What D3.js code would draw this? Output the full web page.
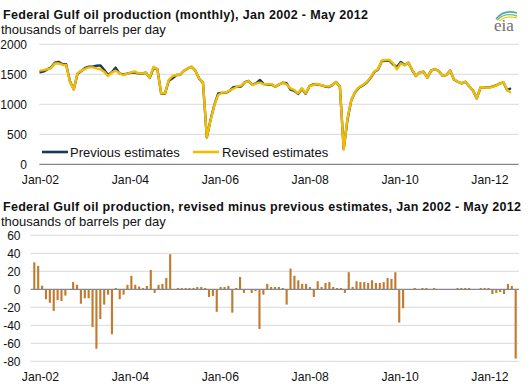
<!DOCTYPE html>
<html>
<head>
<meta charset="utf-8">
<script src="https://cdn.jsdelivr.net/npm/d3@7"></script>
<style>
  html, body { margin: 0; padding: 0; background: #fff; }
  svg { display: block; font-family: "Liberation Sans", Arial, sans-serif; }
</style>
</head>
<body>
<svg id="chart" width="530" height="384"></svg>
<script>
// ---------- DATA ----------
const startYear = 2002;
const months = d3.range(125); // Jan 2002 .. May 2012 (month index)

const revisedEstimates = [
  1561,1570,1585,1600,1680,1683,1660,1655,1377,1249,
  1516,1560,1590,1616,1616,1600,1583,1544,1472,1527,
  1561,1516,1488,1505,1530,1549,1516,1516,1527,1444,
  1627,1583,1183,1183,1405,1472,1488,1494,1560,1599,
  1627,1561,1430,1361,449,738,988,1155,1194,1194,
  1230,1260,1294,1310,1366,1388,1322,1349,1361,1333,
  1333,1333,1294,1333,1361,1333,1266,1238,1183,1266,
  1183,1305,1322,1338,1322,1305,1294,1322,1372,1294,
  249,766,1072,1210,1283,1322,1366,1444,1544,1583,
  1727,1738,1738,1683,1583,1683,1655,1694,1572,1472,
  1533,1544,1444,1561,1588,1555,1477,1488,1561,1416,
  1377,1349,1377,1300,1230,1100,1283,1283,1270,1290,
  1310,1340,1370,1240,1190
];

const previousEstimates = [
  1531,1544,1581,1611,1695,1707,1672,1668,1384,1249,
  1508,1555,1606,1626,1626,1642,1649,1577,1489,1533,
  1611,1515,1499,1511,1525,1534,1511,1513,1526,1440,
  1606,1587,1178,1177,1392,1433,1488,1493,1559,1598,
  1626,1560,1427,1358,448,747,995,1180,1191,1191,
  1226,1286,1293,1296,1370,1388,1326,1351,1405,1339,
  1327,1330,1291,1330,1360,1350,1243,1223,1173,1260,
  1177,1302,1331,1329,1319,1298,1286,1319,1371,1293,
  253,747,1069,1201,1275,1314,1359,1434,1537,1576,
  1719,1725,1727,1664,1620,1704,1655,1694,1571,1472,
  1532,1543,1444,1560,1588,1555,1477,1488,1561,1415,
  1376,1348,1376,1300,1230,1099,1282,1282,1275,1294,
  1313,1345,1364,1236,1267
];

const revisedMinusPrevious = [
  30,26,4,-11,-15,-24,-12,-13,-7,0,
  8,5,-16,-10,-10,-42,-66,-33,-17,-6,
  -50,1.5,-11,-6,5,15,5,3,1.5,3.7,
  21.5,-4,5,6,12.6,39,0,1.5,1.5,1.5,
  1.5,1.5,2.6,2.6,1.5,-8.5,-7.4,-25,2.6,2.6,
  3.7,-26,1.5,13.7,-4,0,-4,-2,-44,-6,
  6,2.6,2.6,2.6,1.5,-17,23,15,10,6,
  6,2.6,-8.5,9,2.6,7,8,2.6,1.5,1.5,
  -4,19,2.6,9,8,8,7,10,7,7,
  8,12.6,11.5,19,-37,-21,0,0,1.5,0,
  1.5,1.5,0,1.5,0,0,0,0,0,1.5,
  1.5,1.5,1.5,0,0,1.5,1.5,1.5,-5.2,-4,
  -3,-5.2,6,3.7,-77
];

const xTickMonths = [0, 24, 48, 72, 96, 120];
const xTickLabels = ["Jan-02", "Jan-04", "Jan-06", "Jan-08", "Jan-10", "Jan-12"];
const topYTicks = [0, 500, 1000, 1500, 2000];
const bottomYTicks = [-80, -60, -40, -20, 0, 20, 40, 60];
const seriesNames = ["Previous estimates", "Revised estimates"];

// ---------- STYLE ----------
const COL_PREV = "#173a5a";
const COL_REV = "#f2bd00";
const COL_BAR = "#c27a30";
const COL_GRID = "#d9d9d9";
const COL_AXIS = "#878787";
const COL_TEXT = "#111";

const svg = d3.select("#chart");
svg.append("rect").attr("width", 530).attr("height", 384).attr("fill", "#fff");

// ---------- TITLES ----------
function title(y, txt, len) {
  svg.append("text").attr("x", 3).attr("y", y)
    .attr("font-size", 12.5).attr("font-weight", "bold").attr("fill", COL_TEXT)
    .attr("textLength", len).attr("lengthAdjust", "spacing")
    .text(txt);
}
function subtitle(y, txt) {
  svg.append("text").attr("x", 1).attr("y", y)
    .attr("font-size", 13).attr("fill", COL_TEXT).text(txt);
}
title(19, "Federal Gulf oil production (monthly), Jan 2002 - May 2012", 365);
subtitle(34, "thousands of barrels per day");
title(211, "Federal Gulf oil production, revised minus previous estimates, Jan 2002 - May 2012", 518);
subtitle(226, "thousands of barrels per day");

// ---------- EIA LOGO ----------
const logo = svg.append("g");
logo.append("path").attr("d", "M496,19 Q504,9 517,13").attr("fill", "none").attr("stroke", "#4aa3d6").attr("stroke-width", 1.6);
logo.append("path").attr("d", "M497,20 Q505,12 517,16").attr("fill", "none").attr("stroke", "#7cbf4a").attr("stroke-width", 1.4);
logo.append("path").attr("d", "M499,21 Q507,15 517,18").attr("fill", "none").attr("stroke", "#f2bd00").attr("stroke-width", 1.2);
logo.append("text").attr("x", 504).attr("y", 31).attr("text-anchor", "middle")
  .attr("font-family", "'Liberation Serif', 'DejaVu Serif', serif").attr("font-size", 17)
  .attr("fill", "#6d6e71").text("eia");

// ---------- TOP CHART ----------
const xTop = d3.scaleLinear().domain([0, 124]).range([39.5, 511]);
const yTop = d3.scaleLinear().domain([0, 2000]).range([164.3, 44.3]);
const xLabel = d3.scaleLinear().domain([0, 120]).range([40.5, 490]);

const gTop = svg.append("g");
gTop.selectAll("line.grid").data(topYTicks.filter(d => d !== 0)).join("line")
  .attr("x1", 39.3).attr("x2", 518.7)
  .attr("y1", d => yTop(d)).attr("y2", d => yTop(d))
  .attr("stroke", COL_GRID).attr("stroke-width", 1);
gTop.append("line").attr("x1", 39.3).attr("x2", 518.7)
  .attr("y1", yTop(0)).attr("y2", yTop(0))
  .attr("stroke", COL_AXIS).attr("stroke-width", 1.3);
gTop.selectAll("text.ytick").data(topYTicks).join("text")
  .attr("x", 27).attr("y", d => yTop(d)).attr("dy", "0.36em")
  .attr("text-anchor", "end").attr("font-size", 12).attr("fill", COL_TEXT)
  .text(d => d);
gTop.selectAll("text.xtick").data(xTickMonths).join("text")
  .attr("x", d => xLabel(d)).attr("y", 184)
  .attr("text-anchor", "middle").attr("font-size", 12.2).attr("fill", COL_TEXT)
  .text((d, i) => xTickLabels[i]);

const line = d3.line().x((d, i) => xTop(months[i])).y(d => yTop(d));
gTop.append("path").datum(previousEstimates).attr("d", line)
  .attr("fill", "none").attr("stroke", COL_PREV).attr("stroke-width", 2.4)
  .attr("stroke-linejoin", "round");
gTop.append("path").datum(revisedEstimates).attr("d", line)
  .attr("fill", "none").attr("stroke", COL_REV).attr("stroke-width", 2.4)
  .attr("stroke-linejoin", "round");

// legend
const legend = gTop.append("g");
const legendItems = [
  { name: seriesNames[0], color: COL_PREV, x0: 42, x1: 68, tx: 70 },
  { name: seriesNames[1], color: COL_REV, x0: 193, x1: 219, tx: 222 }
];
legendItems.forEach(it => {
  legend.append("line").attr("x1", it.x0).attr("x2", it.x1).attr("y1", 152).attr("y2", 152)
    .attr("stroke", it.color).attr("stroke-width", 2.6);
  legend.append("text").attr("x", it.tx).attr("y", 156.5)
    .attr("font-size", 13).attr("fill", COL_TEXT).text(it.name);
});

// ---------- BOTTOM CHART ----------
const xBot = d3.scaleBand().domain(months).range([31.5, 518.5]).padding(0.45);
const yBot = d3.scaleLinear().domain([-80, 60]).range([361.3, 235.3]);

const gBot = svg.append("g");
gBot.selectAll("line.grid").data(bottomYTicks.filter(d => d !== 0)).join("line")
  .attr("x1", 30.7).attr("x2", 519)
  .attr("y1", d => yBot(d)).attr("y2", d => yBot(d))
  .attr("stroke", COL_GRID).attr("stroke-width", 1);
gBot.selectAll("text.ytick").data(bottomYTicks).join("text")
  .attr("x", 20.5).attr("y", d => yBot(d)).attr("dy", "0.36em")
  .attr("text-anchor", "end").attr("font-size", 12).attr("fill", COL_TEXT)
  .text(d => d);
gBot.selectAll("rect.bar").data(revisedMinusPrevious).join("rect")
  .attr("x", (d, i) => xBot(months[i]))
  .attr("width", xBot.bandwidth())
  .attr("y", d => yBot(Math.max(0, d)))
  .attr("height", d => Math.abs(yBot(d) - yBot(0)))
  .attr("fill", COL_BAR);
gBot.append("line").attr("x1", 30.7).attr("x2", 519)
  .attr("y1", yBot(0)).attr("y2", yBot(0))
  .attr("stroke", COL_AXIS).attr("stroke-width", 1.3);
gBot.selectAll("text.xtick").data(xTickMonths).join("text")
  .attr("x", d => xLabel(d)).attr("y", 381)
  .attr("text-anchor", "middle").attr("font-size", 12.2).attr("fill", COL_TEXT)
  .text((d, i) => xTickLabels[i]);
</script>
</body>
</html>
